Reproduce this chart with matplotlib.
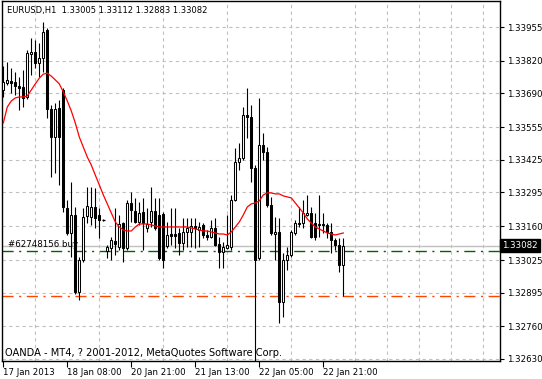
import matplotlib
matplotlib.use("Agg")
import matplotlib.pyplot as plt
import matplotlib.transforms as mtransforms

# EURUSD H1 candles (86 bars, oldest first)
opens = [1.33704, 1.33732, 1.33740, 1.33736, 1.33720, 1.33716, 1.33676, 1.33847, 1.33855, 1.33811,
         1.33831, 1.33943, 1.33628, 1.33516, 1.33632, 1.33704, 1.33233, 1.33133, 1.33205, 1.32898,
         1.33025, 1.33201, 1.33197, 1.33237, 1.33205, 1.33185, 1.33061, 1.33073, 1.33101, 1.33077,
         1.33173, 1.33073, 1.33253, 1.33221, 1.33177, 1.33217, 1.33153, 1.33177, 1.33221, 1.33205,
         1.33209, 1.33081, 1.33129, 1.33129, 1.33133, 1.33093, 1.33137, 1.33137, 1.33161, 1.33145,
         1.33165, 1.33125, 1.33117, 1.33153, 1.33089, 1.33057, 1.33073, 1.33077, 1.33265, 1.33416,
         1.33432, 1.33604, 1.33596, 1.33392, 1.33033, 1.33484, 1.33456, 1.33245, 1.33129, 1.33137,
         1.32858, 1.33025, 1.33045, 1.33133, 1.33173, 1.33173, 1.33205, 1.33213, 1.33173, 1.33165,
         1.33169, 1.33165, 1.33137, 1.33105, 1.33085, 1.33005]
highs = [1.33799, 1.33815, 1.33791, 1.33775, 1.33755, 1.33783, 1.33863, 1.33911, 1.33903, 1.33891,
         1.33975, 1.33951, 1.33644, 1.33652, 1.33664, 1.33712, 1.33265, 1.33337, 1.33237, 1.33037,
         1.33233, 1.33317, 1.33317, 1.33313, 1.33233, 1.33189, 1.33085, 1.33117, 1.33233, 1.33205,
         1.33177, 1.33265, 1.33297, 1.33273, 1.33257, 1.33273, 1.33233, 1.33317, 1.33273, 1.33273,
         1.33217, 1.33177, 1.33233, 1.33233, 1.33153, 1.33193, 1.33193, 1.33193, 1.33193, 1.33177,
         1.33173, 1.33145, 1.33185, 1.33193, 1.33117, 1.33097, 1.33205, 1.33285, 1.33472, 1.33492,
         1.33636, 1.33712, 1.33644, 1.33404, 1.33672, 1.33532, 1.33476, 1.33277, 1.33197, 1.33193,
         1.33053, 1.33077, 1.33145, 1.33185, 1.33237, 1.33265, 1.33285, 1.33237, 1.33213, 1.33285,
         1.33213, 1.33173, 1.33173, 1.33113, 1.33113, 1.33112]
lows = [1.33676, 1.33724, 1.33692, 1.33684, 1.33624, 1.33636, 1.33668, 1.33763, 1.33791, 1.33755,
        1.33775, 1.33592, 1.33356, 1.33372, 1.33324, 1.33217, 1.33125, 1.33037, 1.32890, 1.32866,
        1.33017, 1.33173, 1.33165, 1.33153, 1.33113, 1.33181, 1.33033, 1.33025, 1.33045, 1.33065,
        1.33017, 1.33065, 1.33177, 1.33173, 1.33165, 1.33065, 1.33137, 1.33157, 1.33145, 1.33025,
        1.32993, 1.33073, 1.33085, 1.33073, 1.33045, 1.33065, 1.33077, 1.33077, 1.33073, 1.33077,
        1.33113, 1.33105, 1.33113, 1.33081, 1.32993, 1.32993, 1.33069, 1.33065, 1.33261, 1.33384,
        1.33424, 1.33512, 1.33337, 1.32618, 1.33025, 1.33424, 1.33237, 1.33125, 1.33025, 1.32774,
        1.32798, 1.32985, 1.33037, 1.33125, 1.33157, 1.33153, 1.33201, 1.33113, 1.33105, 1.33117,
        1.33133, 1.33113, 1.33053, 1.33065, 1.32977, 1.32883]
closes = [1.33736, 1.33744, 1.33732, 1.33720, 1.33712, 1.33672, 1.33851, 1.33855, 1.33811, 1.33831,
          1.33935, 1.33628, 1.33516, 1.33628, 1.33516, 1.33237, 1.33133, 1.33205, 1.32898, 1.33025,
          1.33197, 1.33241, 1.33237, 1.33193, 1.33185, 1.33185, 1.33077, 1.33105, 1.33089, 1.33169,
          1.33073, 1.33253, 1.33225, 1.33177, 1.33213, 1.33173, 1.33169, 1.33221, 1.33153, 1.33033,
          1.33025, 1.33125, 1.33121, 1.33121, 1.33093, 1.33137, 1.33153, 1.33161, 1.33153, 1.33157,
          1.33125, 1.33117, 1.33153, 1.33085, 1.33057, 1.33077, 1.33085, 1.33265, 1.33416, 1.33432,
          1.33604, 1.33596, 1.33392, 1.33025, 1.33484, 1.33456, 1.33245, 1.33133, 1.33137, 1.32858,
          1.33025, 1.33045, 1.33137, 1.33173, 1.33169, 1.33213, 1.33213, 1.33117, 1.33117, 1.33169,
          1.33165, 1.33137, 1.33105, 1.33085, 1.33005, 1.33082]
# red moving average line
ma = [1.33572, 1.33636, 1.33660, 1.33672, 1.33676, 1.33676, 1.33680, 1.33704, 1.33728, 1.33751,
      1.33767, 1.33771, 1.33759, 1.33744, 1.33728, 1.33696, 1.33660, 1.33620, 1.33572, 1.33516,
      1.33476, 1.33436, 1.33404, 1.33364, 1.33325, 1.33285, 1.33249, 1.33213, 1.33177, 1.33157,
      1.33145, 1.33141, 1.33141, 1.33157, 1.33169, 1.33169, 1.33169, 1.33165, 1.33161, 1.33157,
      1.33157, 1.33157, 1.33157, 1.33157, 1.33157, 1.33157, 1.33157, 1.33153, 1.33149, 1.33145,
      1.33141, 1.33141, 1.33137, 1.33133, 1.33129, 1.33129, 1.33125, 1.33137, 1.33157, 1.33177,
      1.33205, 1.33237, 1.33249, 1.33253, 1.33261, 1.33285, 1.33293, 1.33293, 1.33289, 1.33289,
      1.33281, 1.33277, 1.33273, 1.33253, 1.33233, 1.33213, 1.33189, 1.33173, 1.33157, 1.33149,
      1.33141, 1.33133, 1.33129, 1.33125, 1.33129, 1.33133]

price_labels = ['1.33955', '1.33820', '1.33690', '1.33555', '1.33425', '1.33295',
                '1.33160', '1.33025', '1.32895', '1.32760', '1.32630']
time_labels = ['17 Jan 2013', '18 Jan 08:00', '20 Jan 21:00', '21 Jan 13:00',
               '22 Jan 05:00', '22 Jan 21:00']
time_bars = [0, 16, 32, 48, 64, 80]

bid = 1.33082
buy_level = 1.33061
stop_level = 1.32880

fig = plt.figure(figsize=(5.42, 3.79), dpi=100)
ax = fig.add_axes([2 / 542, 18 / 379, 498 / 542, 360 / 379])

n = len(opens)
xs = list(range(n))

# wicks
ax.vlines(xs, lows, highs, color='black', linewidth=0.8, zorder=3)
# bodies
for i in xs:
    o, c = opens[i], closes[i]
    if abs(c - o) < 0.00002:
        ax.hlines(o, i - 0.37, i + 0.37, color='black', linewidth=0.9, zorder=4)
    elif c > o:
        ax.bar(i, c - o, bottom=o, width=0.5, facecolor='white', edgecolor='black',
               linewidth=0.75, zorder=4)
    else:
        ax.bar(i, o - c, bottom=c, width=0.5, facecolor='black', edgecolor='black',
               linewidth=0.75, zorder=4)

ax.plot(xs, ma, color='red', linewidth=0.9, zorder=5)

# order / price lines
ax.axhline(bid, color='#c0c0c0', linewidth=1, zorder=2)
ax.axhline(buy_level, color='#006400', linewidth=1, dashes=(8, 4, 1.5, 4), zorder=2)
ax.axhline(stop_level, color='#ff4500', linewidth=1, dashes=(8, 4, 1.5, 4), zorder=2)

ax.set_xlim(-0.325, 124.175)
ax.set_ylim(1.32622, 1.34059)

ax.set_yticks([float(p) for p in price_labels])
ax.set_yticklabels(price_labels)
ax.yaxis.tick_right()
ax.set_xticks(time_bars)
ax.set_xticklabels(time_labels, ha='left')
ax.tick_params(axis='y', direction='out', length=3, width=0.8, labelsize=6.2, pad=2)
ax.tick_params(axis='x', direction='out', length=4, width=0.8, labelsize=6.2, pad=1)

ax.set_xticks(range(8, 124, 8), minor=True)
ax.tick_params(axis='x', which='minor', length=0)
ax.grid(True, which='minor', axis='x', color='#c0c0c0', linestyle=(0, (3, 3)), linewidth=0.8)
ax.grid(True, which='major', axis='y', color='#c0c0c0', linestyle=(0, (3, 3)), linewidth=0.8)
ax.set_axisbelow(True)

for s in ax.spines.values():
    s.set_color('black')
    s.set_linewidth(1)

ax.text(0.01, 0.985, 'EURUSD,H1  1.33005 1.33112 1.32883 1.33082', transform=ax.transAxes,
        fontsize=6.0, va='top', ha='left')
ax.text(0.006, 0.008, 'OANDA - MT4, ? 2001-2012, MetaQuotes Software Corp.', transform=ax.transAxes,
        fontsize=7.1, va='bottom', ha='left')
ax.text(0.012, buy_level + 0.00008, '#62748156 buy', fontsize=6.2, va='bottom', ha='left',
        transform=mtransforms.blended_transform_factory(ax.transAxes, ax.transData))

# current bid box on the price scale
ax.text(1.004, bid, '1.33082', color='white', fontsize=6.2, va='center', ha='left',
        transform=mtransforms.blended_transform_factory(ax.transAxes, ax.transData),
        bbox=dict(facecolor='black', edgecolor='black', pad=1.5), clip_on=False)

fig.savefig('out.png', dpi=100)
